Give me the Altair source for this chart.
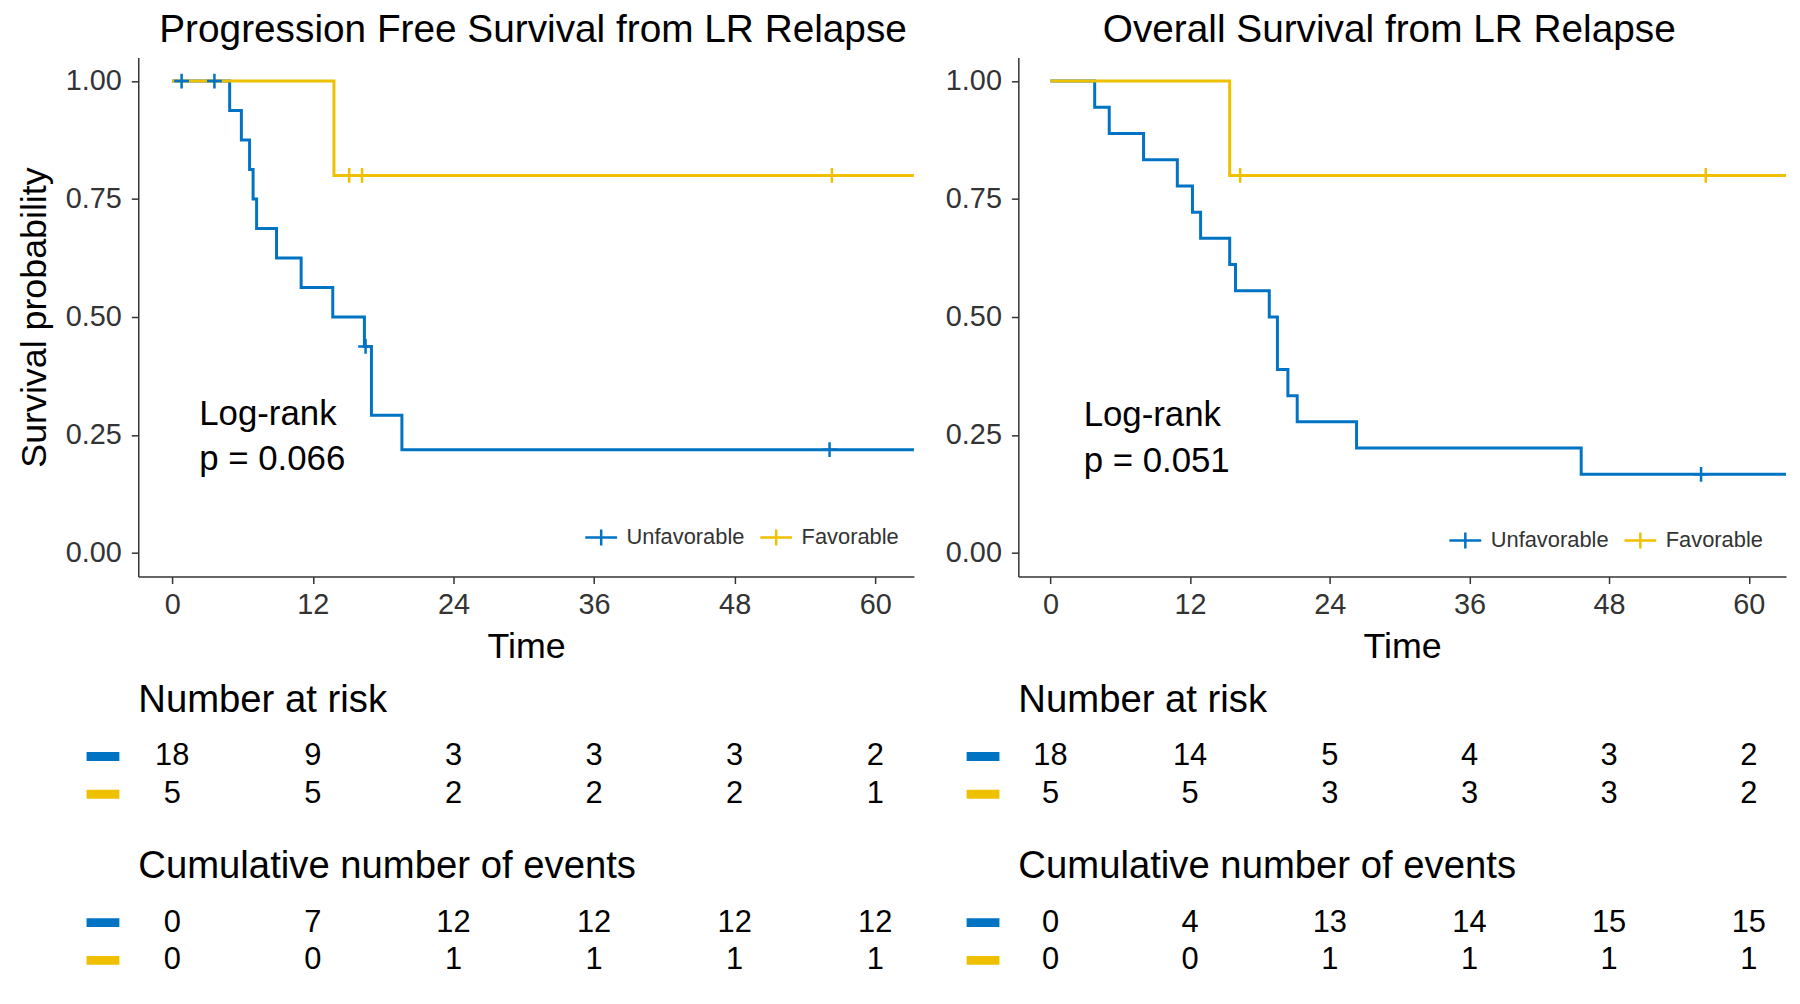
import altair as alt
import pandas as pd

FONT = "Liberation Sans"
GROUPS = ["Unfavorable", "Favorable"]
COLORS = ["#0073C2", "#EFC000"]
TABLE_TIMES = [0, 12, 24, 36, 48, 60]
Y_TICKS = [0.0, 0.25, 0.5, 0.75, 1.0]

# ---------- Progression Free Survival ----------
pfs_unf_t = [0, 4.9, 5.9, 6.6, 6.9, 7.2, 8.9, 11.0, 13.7, 16.4, 17.0, 19.6, 63.3]
pfs_unf_s = [1.0, 0.9375, 0.875, 0.8125, 0.75, 0.6875, 0.625, 0.5625, 0.5, 0.4375, 0.2917, 0.2188, 0.2188]
pfs_unf_cens_t = [0.8, 3.6, 16.5, 56.1]
pfs_unf_cens_s = [1.0, 1.0, 0.4375, 0.2188]
pfs_fav_t = [0, 13.8, 63.3]
pfs_fav_s = [1.0, 0.8, 0.8]
pfs_fav_cens_t = [15.1, 16.2, 56.3]
pfs_fav_cens_s = [0.8, 0.8, 0.8]
pfs_risk_unf = [18, 9, 3, 3, 3, 2]
pfs_risk_fav = [5, 5, 2, 2, 2, 1]
pfs_events_unf = [0, 7, 12, 12, 12, 12]
pfs_events_fav = [0, 0, 1, 1, 1, 1]
pfs_pvalue = ["Log-rank", "p = 0.066"]

# ---------- Overall Survival ----------
os_unf_t = [0, 3.8, 5.05, 8.0, 10.9, 12.2, 12.9, 15.4, 15.9, 18.8, 19.5, 20.4, 21.2, 26.3, 45.6, 63.2]
os_unf_s = [1.0, 0.9444, 0.8889, 0.8333, 0.7778, 0.7222, 0.6667, 0.6111, 0.5556, 0.5, 0.3889,
            0.3333, 0.2778, 0.2222, 0.1667, 0.1667]
os_unf_cens_t = [55.9]
os_unf_cens_s = [0.1667]
os_fav_t = [0, 15.4, 63.2]
os_fav_s = [1.0, 0.8, 0.8]
os_fav_cens_t = [16.3, 56.3]
os_fav_cens_s = [0.8, 0.8]
os_risk_unf = [18, 14, 5, 4, 3, 2]
os_risk_fav = [5, 5, 3, 3, 3, 2]
os_events_unf = [0, 4, 13, 14, 15, 15]
os_events_fav = [0, 0, 1, 1, 1, 1]
os_pvalue = ["Log-rank", "p = 0.051"]

PLUS = "M-1,0L1,0M0,-1L0,1"
LEG_SYMBOL = "M-1,0L1,0M0,-0.5L0,0.5"
color_scale = alt.Scale(domain=GROUPS, range=COLORS)
ROW_PX = 38


def curve_df(ut, us, ft, fs):
    rows = [{"group": GROUPS[0], "time": t, "surv": s} for t, s in zip(ut, us)]
    rows += [{"group": GROUPS[1], "time": t, "surv": s} for t, s in zip(ft, fs)]
    return pd.DataFrame(rows)


def table_df(unf, fav):
    rows = [{"group": GROUPS[0], "row": 0, "time": t, "value": v} for t, v in zip(TABLE_TIMES, unf)]
    rows += [{"group": GROUPS[1], "row": 1, "time": t, "value": v} for t, v in zip(TABLE_TIMES, fav)]
    return pd.DataFrame(rows)


def make_plot(title, title_dx, curves, cens, pval, pval_pos, xdom, width, y_title, leg_xy):
    xs = alt.Scale(domain=xdom, nice=False, zero=False)
    ys = alt.Scale(domain=[-0.05, 1.05], nice=False, zero=False)
    xax = alt.Axis(values=TABLE_TIMES, title="Time", labelPadding=7, titlePadding=10)
    yax = alt.Axis(values=Y_TICKS, format=".2f", title=y_title, labelPadding=10, titlePadding=12)
    line = alt.Chart(curves).mark_line(interpolate="step-after", strokeWidth=3).encode(
        x=alt.X("time:Q", scale=xs, axis=xax),
        y=alt.Y("surv:Q", scale=ys, axis=yax),
        color=alt.Color("group:N", scale=color_scale, sort=GROUPS, legend=alt.Legend(
            title=None, orient="none", legendX=leg_xy[0], legendY=leg_xy[1], direction="horizontal",
            symbolType=LEG_SYMBOL, symbolSize=1024, symbolStrokeWidth=2.5,
            labelFontSize=22, labelFont=FONT, labelColor="#333333", columnPadding=10, labelOffset=8)),
    )
    pts = alt.Chart(cens).mark_point(shape=PLUS, size=220, strokeWidth=2.5, filled=False, opacity=1).encode(
        x=alt.X("time:Q", scale=xs), y=alt.Y("surv:Q", scale=ys),
        color=alt.Color("group:N", scale=color_scale, sort=GROUPS),
    )
    ann = pd.DataFrame({"time": [pval_pos[0]] * 2, "surv": pval_pos[1], "label": pval})
    txt = alt.Chart(ann).mark_text(align="left", baseline="middle", fontSize=35, font=FONT, color="black").encode(
        x=alt.X("time:Q", scale=xs), y=alt.Y("surv:Q", scale=ys), text="label:N")
    return alt.layer(line, pts, txt).properties(
        width=width, height=522,
        title=alt.TitleParams(title, fontSize=39, font=FONT, fontWeight="normal", color="black",
                              anchor="middle", frame="group", offset=8, dx=title_dx))


def make_table(title, df, xdom, width, extra):
    xs = alt.Scale(domain=xdom, nice=False, zero=False)
    ys = alt.Scale(domain=[-0.5, 1.5 + extra], reverse=True, nice=False, zero=False)
    nums = alt.Chart(df).mark_text(fontSize=31, font=FONT, color="black", baseline="middle").encode(
        x=alt.X("time:Q", scale=xs, axis=None),
        y=alt.Y("row:Q", scale=ys, axis=None),
        text="value:Q")
    sw = alt.Chart(df[df["time"] == 0]).mark_rule(strokeWidth=9).encode(
        x=alt.value(-52), x2=alt.value(-19),
        y=alt.Y("row:Q", scale=ys, axis=None),
        color=alt.Color("group:N", scale=color_scale, legend=None))
    return alt.layer(sw, nums).properties(
        width=width, height=ROW_PX * (2 + extra),
        title=alt.TitleParams(title, fontSize=38.5, font=FONT, fontWeight="normal", color="black",
                              anchor="start", frame="group", offset=17))


def panel(title, title_dx, curves, cens, pval, pval_pos, xdom, width, y_title, leg_xy, risk, events):
    p = make_plot(title, title_dx, curves, cens, pval, pval_pos, xdom, width, y_title, leg_xy)
    r = make_table("Number at risk", risk, xdom, width, 0.447)
    e = make_table("Cumulative number of events", events, xdom, width, 0)
    return alt.vconcat(p, r, e, spacing=17).resolve_scale(color="independent", x="independent", y="independent")


left = panel("Progression Free Survival from LR Relapse", 7,
             curve_df(pfs_unf_t, pfs_unf_s, pfs_fav_t, pfs_fav_s),
             curve_df(pfs_unf_cens_t, pfs_unf_cens_s, pfs_fav_cens_t, pfs_fav_cens_s),
             pfs_pvalue, (2.3, [0.295, 0.198]), [-2.9, 63.3], 780, "Survival probability", (448, 465),
             table_df(pfs_risk_unf, pfs_risk_fav), table_df(pfs_events_unf, pfs_events_fav))

right = panel("Overall Survival from LR Relapse", -13,
              curve_df(os_unf_t, os_unf_s, os_fav_t, os_fav_s),
              curve_df(os_unf_cens_t, os_unf_cens_s, os_fav_cens_t, os_fav_cens_s),
              os_pvalue, (2.85, [0.292, 0.195]), [-2.76, 63.2], 772, None, (432, 468),
              table_df(os_risk_unf, os_risk_fav), table_df(os_events_unf, os_events_fav))

chart = alt.hconcat(left, right, spacing=25).resolve_scale(
    color="independent", x="independent", y="independent"
).properties(
    padding={"left": 8, "top": 0, "right": 0, "bottom": 0}
).configure_view(stroke=None).configure_axis(
    grid=False, domainColor="#333333", tickColor="#333333", domainWidth=1.5, tickWidth=1.5, tickSize=7,
    labelFont=FONT, titleFont=FONT, labelFontSize=29, titleFontSize=36, labelColor="#333333",
    titleColor="black", titleFontWeight="normal"
)

chart.save("out.html", embed_options={"renderer": "svg", "actions": False})
